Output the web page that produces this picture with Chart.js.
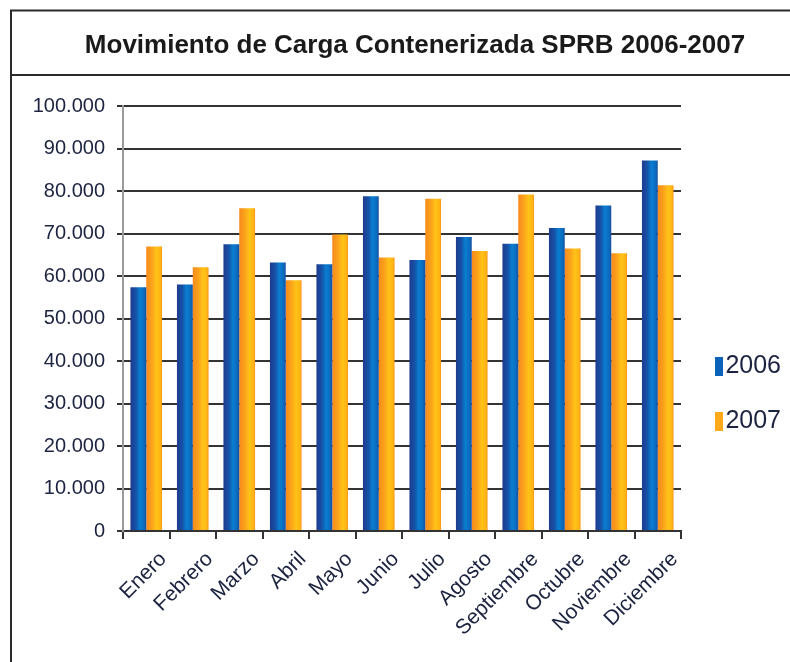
<!DOCTYPE html>
<html>
<head>
<meta charset="utf-8">
<script src="https://cdn.jsdelivr.net/npm/chart.js@4.4.1/dist/chart.umd.min.js"></script>
<style>
html,body{margin:0;padding:0;background:#fff;overflow:hidden}
#wrap{position:relative;width:790px;height:662px}
</style>
</head>
<body>
<div id="wrap"><canvas id="c" width="790" height="662" style="width:790px;height:662px"></canvas></div>
<script>
const months = ['Enero','Febrero','Marzo','Abril','Mayo','Junio','Julio','Agosto','Septiembre','Octubre','Noviembre','Diciembre'];
const seriesNames = ['2006','2007'];
const values2006 = [57400,58000,67500,63200,62800,78800,63800,69200,67600,71300,76600,87200];
const values2007 = [67000,62100,76000,59000,69800,64400,78200,65900,79200,66500,65400,81400];
const yMin = 0, yMax = 100000, yStep = 10000;
const chartTitle = 'Movimiento de Carga Contenerizada SPRB 2006-2007';

const CAT_PCT = 0.68;
const FONT = "'Liberation Sans', Arial, sans-serif";
const BLUE = '#0a63b8', ORANGE = '#ffa81a';

function fmt(v){ return String(v).replace(/\B(?=(\d{3})+(?!\d))/g,'.'); }

function barFill(kind){
  return function(ctx){
    const chart = ctx.chart;
    const xs = chart.scales && chart.scales.x;
    const solid = kind===0 ? BLUE : ORANGE;
    if(!xs || !xs.width || ctx.dataIndex===undefined) return solid;
    const center = xs.getPixelForValue(ctx.dataIndex);
    const bw = xs.width / months.length * CAT_PCT / 2;
    const x0 = kind===0 ? center - bw : center;
    const g = chart.ctx.createLinearGradient(x0,0,x0+bw,0);
    if(kind===0){
      g.addColorStop(0,'#1f3a8e');
      g.addColorStop(0.35,'#1453a8');
      g.addColorStop(0.6,'#0a7ed0');
      g.addColorStop(0.85,'#0a6cc0');
      g.addColorStop(1,'#1a4f9e');
    } else {
      g.addColorStop(0,'#f78a1e');
      g.addColorStop(0.35,'#fba21a');
      g.addColorStop(0.65,'#ffc318');
      g.addColorStop(0.9,'#ffb414');
      g.addColorStop(1,'#f7941d');
    }
    return g;
  };
}

const framePlugin = {
  id:'frame',
  beforeDraw(chart){
    const c = chart.ctx;
    c.save();
    c.fillStyle = '#fff';
    c.fillRect(0,0,chart.width,chart.height);
    c.strokeStyle = '#2a2a2a';
    c.lineWidth = 2;
    c.beginPath();
    c.moveTo(11, chart.height); c.lineTo(11, 10.5); c.lineTo(chart.width, 10.5);
    c.moveTo(11, 75); c.lineTo(chart.width, 75);
    c.stroke();
    c.restore();
  }
};

const placePlugin = {
  id:'place',
  afterLayout(chart){
    const lg = chart.legend;
    if(lg){
      lg.left = 685; lg.right = 781;
      lg.top = 354 - 30; lg.bottom = lg.top + 200;
    }
    const t = chart.titleBlock;
    if(t){ t.left += 20; t.right += 20; }
  }
};

new Chart(document.getElementById('c'), {
  type:'bar',
  data:{
    labels: months,
    datasets:[
      {label: seriesNames[0], data: values2006, backgroundColor: barFill(0), borderWidth:0},
      {label: seriesNames[1], data: values2007, backgroundColor: barFill(1), borderWidth:0}
    ]
  },
  options:{
    responsive:false,
    animation:false,
    events:[],
    layout:{padding:{left:0,right:0,top:0,bottom:0}},
    datasets:{bar:{categoryPercentage:CAT_PCT, barPercentage:1.0}},
    plugins:{
      title:{display:true,text:chartTitle,color:'#1a1a1a',font:{family:FONT,size:26,weight:'bold'},padding:{top:30,bottom:45}},
      legend:{
        display:true, position:'right', align:'start', maxWidth:109,
        labels:{
          boxWidth:8, boxHeight:19, padding:30, color:'#1c2340', textAlign:'right',
          font:{family:FONT,size:25},
          generateLabels(chart){
            return chart.data.datasets.map((d,i)=>({text:d.label, fillStyle: i===0?BLUE:ORANGE, strokeStyle:'rgba(0,0,0,0)', lineWidth:0, datasetIndex:i, fontColor:'#1c2340', textAlign:'right'}));
          }
        }
      },
      tooltip:{enabled:false}
    },
    scales:{
      x:{
        grid:{display:true, drawOnChartArea:false, offset:true, color:'#333', lineWidth:2, tickLength:8},
        border:{display:true, color:'#333', width:2},
        ticks:{autoSkip:false, maxRotation:45, minRotation:45, labelOffset:17, padding:8, color:'#1c2340', font:{family:FONT,size:21}},
        afterFit(s){ s.height = 131; }
      },
      y:{
        min:yMin, max:yMax,
        ticks:{stepSize:yStep, callback:v=>fmt(v), color:'#1c2340', padding:12, font:{family:FONT,size:20}},
        grid:{color:'#333', lineWidth:2, tickLength:6},
        border:{display:true, color:'#9a9a9a', width:2},
        afterFit(s){ s.width = 123; }
      }
    }
  },
  plugins:[framePlugin, placePlugin]
});
</script>
</body>
</html>
